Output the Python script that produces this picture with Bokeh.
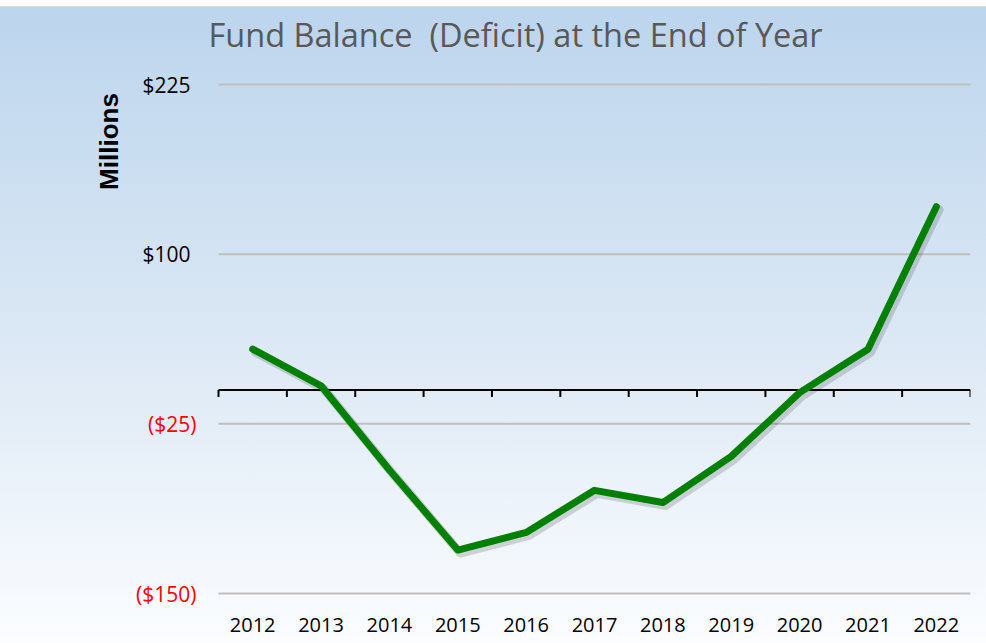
import math
from bokeh.plotting import figure
from bokeh.models import Range1d, FixedTicker, LinearAxis, InlineStyleSheet
from bokeh.core.properties import value
from bokeh.embed import file_html
from bokeh.resources import INLINE

# ---- data ----
years = [2012, 2013, 2014, 2015, 2016, 2017, 2018, 2019, 2020, 2021, 2022]
balance = [30, 3, -59, -118, -105, -74, -83, -49, -2, 30, 135]

y_ticks_pos = [225, 100]
y_labels_pos = ["$225", "$100"]
y_ticks_neg = [-25, -150]
y_labels_neg = ["($25)", "($150)"]

title_text = "Fund Balance \u00a0(Deficit) at the End of Year"
y_title = "Millions"

# ---- layout (pixels) ----
W, H = 986, 643
plot_left, plot_right = 218, 970      # where the category axis starts / ends
plot_top, plot_bottom = 84, 593       # where 225 / -150 sit
frame_bottom = 610
y_lo, y_hi = -150, 225

x0 = years[0] - 0.5
x1 = years[-1] + 0.5
px_x = (plot_right - plot_left) / (x1 - x0)
px_y = (plot_bottom - plot_top) / (y_hi - y_lo)
x_start = x0 - plot_left / px_x
y_end = y_hi + plot_top / px_y
y_start = y_lo - (frame_bottom - plot_bottom) / px_y

boundaries = [y - 0.5 for y in years] + [years[-1] + 0.5]

p = figure(width=W, height=H, output_backend="svg", toolbar_location=None,
           x_range=Range1d(x_start, x1), y_range=Range1d(y_start, y_end),
           min_border_left=0, min_border_right=W - plot_right,
           min_border_top=0, min_border_bottom=H - frame_bottom,
           x_axis_type=None, y_axis_type=None)
p.background_fill_color = None
p.border_fill_color = None
p.outline_line_color = None
p.xgrid.visible = False
p.ygrid.visible = False
p.stylesheets = [InlineStyleSheet(css=":host { background: linear-gradient(to bottom, #ffffff 0px, #ffffff 6px, #d9d9d9 6px, #d9d9d9 7px, #bcd5ed 7px, #dde9f5 55%, #fbfdff 100%); }")]

# bottom axis with year labels only
xa = LinearAxis(ticker=FixedTicker(ticks=years),
                major_label_overrides={y: str(y) for y in years})
xa.axis_line_color = None
xa.major_tick_line_color = None
xa.minor_tick_line_color = None
xa.major_tick_out = 0
xa.major_tick_in = 0
xa.major_label_standoff = 7
xa.major_label_text_line_height = 1.0
xa.major_label_text_font = "Open Sans"
xa.major_label_text_font_size = "20px"
xa.major_label_text_color = "#000000"
p.add_layout(xa, "below")

# horizontal grid lines across the category span
gy = y_ticks_pos + y_ticks_neg
p.segment(x0=[x0] * len(gy), y0=gy, x1=[x1] * len(gy), y1=gy,
          line_color="#bfbfbf", line_width=2)

# y tick labels
p.text(x=[x0] * len(y_ticks_pos), y=y_ticks_pos, text=y_labels_pos, x_offset=-28,
       text_align="right", text_baseline="middle", text_font=value("Open Sans"),
       text_font_size="21px", text_color="#000000")
p.text(x=[x0] * len(y_ticks_neg), y=y_ticks_neg, text=y_labels_neg, x_offset=-22,
       text_align="right", text_baseline="middle", text_font=value("Open Sans"),
       text_font_size="21px", text_color="#ff0000")

# zero line with category boundary ticks
p.segment(x0=[x0], y0=[0], x1=[x1], y1=[0], line_color="#000000", line_width=2)
p.segment(x0=boundaries, y0=[0] * len(boundaries), x1=boundaries, y1=[-5.2] * len(boundaries),
          line_color="#000000", line_width=2)

# shadow + line
p.line([y + 0.04 for y in years], [b - 2.2 for b in balance], line_color="#000000",
       line_alpha=0.15, line_width=9, line_cap="round", line_join="round")
p.line(years, balance, line_color="#008000", line_width=7,
       line_cap="round", line_join="round")

# title
p.text(x=[x0], y=[y_hi], text=[title_text], x_offset=-10, y_offset=-50,
       text_align="left", text_baseline="alphabetic", text_font=value("Open Sans"),
       text_font_size="32.5px", text_color="#595959")

# y title
p.text(x=[x0], y=[y_hi], text=[y_title], x_offset=-110, y_offset=57, angle=math.pi / 2,
       text_align="center", text_baseline="middle", text_font=value("Liberation Sans"),
       text_font_style="bold", text_font_size="26px", text_color="#000000")

open("out.html", "w").write(file_html(p, INLINE))
